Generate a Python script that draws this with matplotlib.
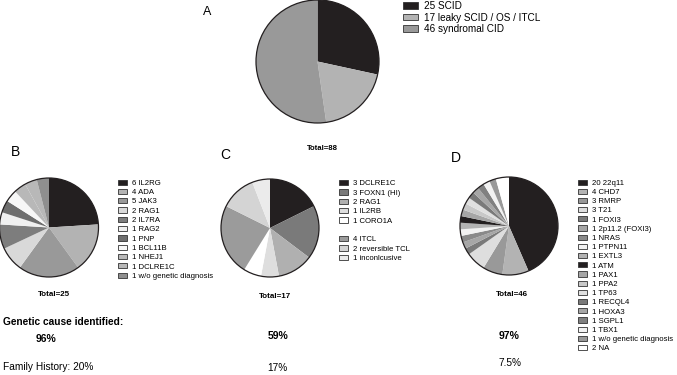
import matplotlib
matplotlib.use('Agg')
import matplotlib.pyplot as plt
from matplotlib.patches import Patch, Circle

plt.rcParams['font.family'] = ['Liberation Sans', 'DejaVu Sans']

W, H = 677, 375

# Panel A: all patients
a_names = ['SCID', 'leaky SCID / OS / ITCL', 'syndromal CID']
a_counts = [25, 17, 46]
a_colors = ['#231f20', '#b3b3b3', '#999999']

# Panel B: SCID
b_names = ['IL2RG', 'ADA', 'JAK3', 'RAG1', 'IL7RA', 'RAG2', 'PNP', 'BCL11B',
           'NHEJ1', 'DCLRE1C', 'w/o genetic diagnosis']
b_counts = [6, 4, 5, 2, 2, 1, 1, 1, 1, 1, 1]
b_colors = ['#231f20', '#b3b3b3', '#999999', '#d9d9d9', '#7d7d7d', '#f0f0f0',
            '#6e6e6e', '#f7f7f7', '#b8b8b8', '#b8b8b8', '#8f8f8f']

# Panel C: leaky SCID / OS / ITCL
c_names = ['DCLRE1C', 'FOXN1 (HI)', 'RAG1', 'IL2RB', 'CORO1A',
           'ITCL', 'reversible TCL', 'inconlcusive']
c_counts = [3, 3, 2, 1, 1, 4, 2, 1]
c_colors = ['#231f20', '#7a7a7a', '#b0b0b0', '#dedede', '#ffffff',
            '#9b9b9b', '#d4d4d4', '#ebebeb']

# Panel D: syndromal CID
d_names = ['22q11', 'CHD7', 'RMRP', 'T21', 'FOXI3', '2p11.2 (FOXI3)', 'NRAS',
           'PTPN11', 'EXTL3', 'ATM', 'PAX1', 'PPA2', 'TP63', 'RECQL4', 'HOXA3',
           'SGPL1', 'TBX1', 'w/o genetic diagnosis', 'NA']
d_counts = [20, 4, 3, 3, 1, 1, 1, 1, 1, 1, 1, 1, 1, 1, 1, 1, 1, 1, 2]
d_colors = ['#231f20', '#b3b3b3', '#999999', '#dedede', '#7a7a7a', '#a6a6a6',
            '#8a8a8a', '#f2f2f2', '#b3b3b3', '#231f20', '#a6a6a6', '#c8c8c8',
            '#e0e0e0', '#7a7a7a', '#a6a6a6', '#808080', '#f2f2f2', '#999999',
            '#ffffff']

genetic_pct = ['96%', '59%', '97%']
family_pct = ['Family History: 20%', '17%', '7.5%']


def fx(x):
    return x / W


def fy(y):
    return 1 - y / H


def draw_pie(fig, cx, cy, r, counts, colors):
    pad = 1.04
    ax = fig.add_axes([fx(cx - r * pad), fy(cy + r * pad),
                       2 * r * pad / W, 2 * r * pad / H])
    ax.pie(counts, colors=colors, startangle=90, counterclock=False,
           wedgeprops={'linewidth': 0})
    ax.add_patch(Circle((0, 0), 1, fill=False, lw=0.9, ec='#231f20'))
    ax.set_xlim(-pad, pad)
    ax.set_ylim(-pad, pad)
    ax.set_aspect('auto')
    ax.axis('off')
    return ax


def add_legend(fig, names, counts, colors, x, ytop, fs, ls, hl, gap_at=None):
    handles = [Patch(facecolor=c, edgecolor='#333333', linewidth=0.6)
               for c in colors]
    labels = ['{} {}'.format(n, s) for n, s in zip(counts, names)]
    if gap_at is not None:
        handles.insert(gap_at, Patch(facecolor='none', edgecolor='none'))
        labels.insert(gap_at, ' ')
    fig.legend(handles, labels, loc='upper left',
               bbox_to_anchor=(fx(x), fy(ytop)), frameon=False, fontsize=fs,
               handlelength=hl, handleheight=0.65, handletextpad=0.6,
               labelspacing=ls, borderpad=0, borderaxespad=0)


fig = plt.figure(figsize=(W / 100, H / 100), dpi=100)

# pies
draw_pie(fig, 317.5, 61.5, 61.5, a_counts, a_colors)
draw_pie(fig, 49, 227.5, 49.5, b_counts, b_colors)
draw_pie(fig, 270, 228, 49, c_counts, c_colors)
draw_pie(fig, 509, 226, 49, d_counts, d_colors)

# legends
add_legend(fig, a_names, a_counts, a_colors, 403, 1.0, 7.2, 0.16, 1.45)
add_legend(fig, b_names, b_counts, b_colors, 118, 179.5, 5.6, 0.255, 1.2)
add_legend(fig, c_names, c_counts, c_colors, 339, 180, 5.6, 0.26, 1.2,
           gap_at=5)
add_legend(fig, d_names, d_counts, d_colors, 578, 179.5, 5.6, 0.24, 1.2)

# panel letters
fig.text(fx(207), fy(12), 'A', fontsize=9, ha='center', va='center')
fig.text(fx(16), fy(152), 'B', fontsize=10, ha='center', va='center')
fig.text(fx(225), fy(155), 'C', fontsize=10, ha='center', va='center')
fig.text(fx(456), fy(158), 'D', fontsize=10, ha='center', va='center')

# totals
bold = dict(fontweight='bold', ha='center', va='center')
fig.text(fx(322), fy(148), 'Total=88', fontsize=5.6, **bold)
fig.text(fx(54), fy(295), 'Total=25', fontsize=5.8, **bold)
fig.text(fx(275), fy(297), 'Total=17', fontsize=5.8, **bold)
fig.text(fx(512), fy(295), 'Total=46', fontsize=5.8, **bold)

fig.text(fx(3), fy(322), 'Genetic cause identified:', fontsize=7.3,
         fontweight='bold', ha='left', va='center')
for x, y, t in zip([46, 278, 509], [339, 336, 336], genetic_pct):
    fig.text(fx(x), fy(y), t, fontsize=7.5, **bold)

fig.text(fx(3), fy(367), family_pct[0], fontsize=7.3, ha='left', va='center')
fig.text(fx(277), fy(368), family_pct[1], fontsize=7.3, ha='center',
         va='center')
fig.text(fx(510), fy(363), family_pct[2], fontsize=7.3, ha='center',
         va='center')

fig.savefig('out.png', dpi=100)
